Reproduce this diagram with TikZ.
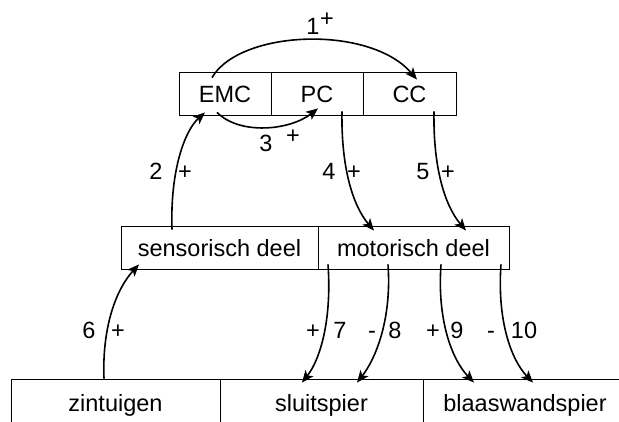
\documentclass[tikz,border=0pt]{standalone}
\usepackage{fontspec}
\setmainfont{Liberation Sans}
\usetikzlibrary{arrows.meta,calc}
\begin{document}
\begin{tikzpicture}[x=1pt,y=-1pt,
  cell/.style={draw,line width=0.8pt,minimum height=43pt,inner sep=0pt,
    text height=17pt,text depth=0pt,font=\fontsize{23.5}{28}\selectfont},
  lbl/.style={inner sep=0pt,text height=17pt,text depth=0pt,font=\fontsize{23.5}{28}\selectfont},
  conn/.style={line width=1.6pt,-{Stealth[length=12pt,width=10pt,inset=3pt]}}]
\useasboundingbox (0,0) rectangle (619,421);
\clip (0,0) rectangle (619,421);
% top row
\node[cell,minimum width=92pt] (emc) at (225,93.5) {EMC};
\node[cell,minimum width=92pt] (pc) at (317,93.5) {PC};
\node[cell,minimum width=93pt] (cc) at (409.5,93.5) {CC};
% middle row
\node[cell,minimum width=197pt] (sens) at (219.5,247.5) {sensorisch deel};
\node[cell,minimum width=191pt] (mot) at (413.5,247.5) {motorisch deel};
% bottom row
\node[cell,minimum width=209pt,minimum height=48pt] (zin) at (115.5,403) {zintuigen};
\node[cell,minimum width=203pt,minimum height=48pt] (slu) at (321.5,403) {sluitspier};
\node[cell,minimum width=204pt,minimum height=48pt] (bla) at (525,403) {blaaswandspier};
% connectors
\draw[conn] ($(emc.north)+(-13,6)$) .. controls +(28,-48) and +(-47,-55) .. ($(cc.north)+(7.5,8)$);
\draw[conn] ($(emc.south)+(-8,-3)$) .. controls +(23,23) and +(-28,22) .. ($(pc.south)+(1,-7)$);
\draw[conn] ($(sens.north)+(-47.5,4)$) .. controls +(-2,-60) and +(-20,18) .. ($(emc.south)+(-20,-3)$);
\draw[conn] ($(pc.south)+(25,-4)$) .. controls +(-1,54) and +(-22,-26) .. ($(mot.north)+(-39.5,5)$);
\draw[conn] ($(cc.south)+(24.5,-4)$) .. controls +(-1,54) and +(-22,-26) .. ($(mot.north)+(52.5,5)$);
\draw[conn] ($(zin.north)+(-11.5,0)$) .. controls +(-2,-49) and +(-24,26) .. ($(sens.south)+(-80.5,-5)$);
\draw[conn] ($(mot.south)+(-85.5,-5)$) .. controls +(4,56) and +(18,-23) .. ($(slu.north)+(-19.5,4)$);
\draw[conn] ($(mot.south)+(-25.5,-5)$) .. controls +(4,56) and +(18,-23) .. ($(slu.north)+(35.5,4)$);
\draw[conn] ($(mot.south)+(27.5,-5)$) .. controls +(-4,56) and +(-22,-23) .. ($(bla.north)+(-51,4)$);
\draw[conn] ($(mot.south)+(87.5,-5)$) .. controls +(-4,56) and +(-22,-23) .. ($(bla.north)+(8,4)$);
% labels
\node[lbl] (l1) at (313,26) {1};
\node[lbl] (l1p) at (327,18) {+};
\node[lbl] (l3) at (266,143) {3};
\node[lbl] (l3p) at (293,135) {+};
\node[lbl] (l2) at (156,171) {2};
\node[lbl] (l2p) at (185,171) {+};
\node[lbl] (l4) at (329,171) {4};
\node[lbl] (l4p) at (354,171) {+};
\node[lbl] (l5) at (423,171) {5};
\node[lbl] (l5p) at (448,171) {+};
\node[lbl] (l6) at (89,330) {6};
\node[lbl] (l6p) at (118,330) {+};
\node[lbl] (l7p) at (313,330) {+};
\node[lbl] (l7) at (340,330) {7};
\node[lbl] (l8m) at (372,330) {-};
\node[lbl] (l8) at (395,330) {8};
\node[lbl] (l9p) at (433,330) {+};
\node[lbl] (l9) at (457,330) {9};
\node[lbl] (l10m) at (491,330) {-};
\node[lbl] (l10) at (524,330) {10};
\end{tikzpicture}
\end{document}
